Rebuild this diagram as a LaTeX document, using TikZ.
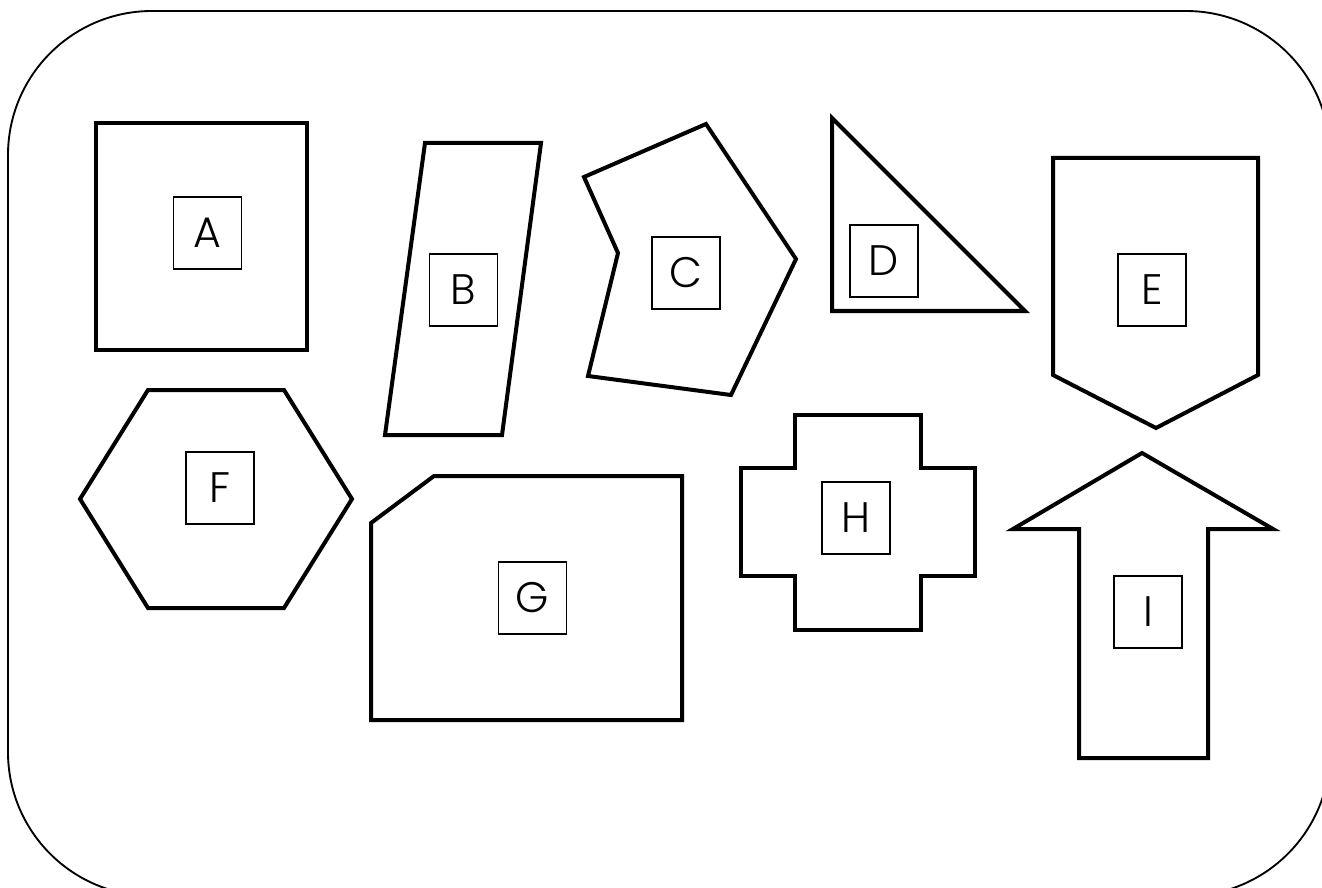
\documentclass[tikz,border=0pt]{standalone}
\usepackage{fontspec}
\setmainfont{Poppins}[UprightFont=* Light]
\begin{document}
\begin{tikzpicture}[x=0.75pt,y=-0.75pt,
  poly/.style={draw=black,line width=3pt,line join=miter},
  frame/.style={draw=black,line width=1.4pt},
  lbl/.style={draw=black,line width=1.1pt,minimum width=51pt,minimum height=54pt,inner sep=0pt,
    font=\fontsize{32}{32}\selectfont}]
\useasboundingbox (0,0) rectangle (1322,888);
\clip (0,0) rectangle (1322,888);
\fill[white] (0,0) rectangle (1322,888);
% outer frame
\draw[frame,rounded corners=108pt] (8,11) rectangle (1330,896);
% A
\draw[poly] (96,123) rectangle (307,350);
\node[lbl] (A) at (207.5,233) {A};
% B
\draw[poly] (425,143) -- (541,143) -- (502,435) -- (385,435) -- cycle;
\node[lbl] (B) at (463.5,290) {B};
% C
\draw[poly] (584,177) -- (706,124) -- (796,259) -- (731,395) -- (588,376) -- (618,253) -- cycle;
\node[lbl] (C) at (686,273) {C};
% D
\draw[poly] (832,118) -- (1025,311) -- (832,311) -- cycle;
\node[lbl] (D) at (884,261) {D};
% E
\draw[poly] (1053,158) -- (1258,158) -- (1258,375) -- (1156,428) -- (1053,375) -- cycle;
\node[lbl] (E) at (1152,290) {E};
% F
\draw[poly] (148,390) -- (284,390) -- (352,499) -- (284,608) -- (148,608) -- (80,499) -- cycle;
\node[lbl] (F) at (220,488) {F};
% G
\draw[poly] (434,476) -- (682,476) -- (682,720) -- (371,720) -- (371,523) -- cycle;
\node[lbl] (G) at (532.5,598) {G};
% H
\draw[poly] (795,415) -- (921,415) -- (921,468) -- (975,468) -- (975,576) -- (921,576)
  -- (921,630) -- (795,630) -- (795,576) -- (741,576) -- (741,468) -- (795,468) -- cycle;
\node[lbl] (H) at (856,518) {H};
% I
\draw[poly] (1142,453) -- (1273,529) -- (1208,529) -- (1208,758) -- (1079,758) -- (1079,529)
  -- (1013,529) -- cycle;
\node[lbl] (I) at (1148,612) {I};
\end{tikzpicture}
\end{document}
